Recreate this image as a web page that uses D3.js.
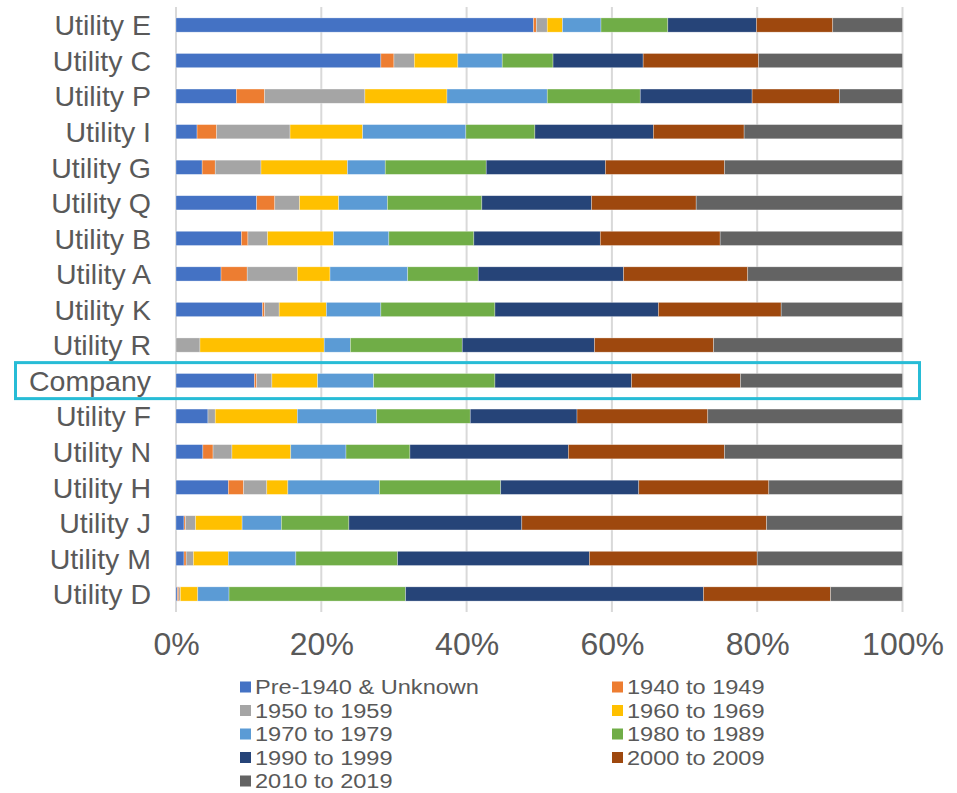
<!DOCTYPE html>
<html>
<head>
<meta charset="utf-8">
<script src="https://cdn.jsdelivr.net/npm/d3@7"></script>
<style>
  html, body { margin: 0; padding: 0; background: #fff; }
  svg { display: block; }
  text { font-family: "Liberation Sans", Arial, sans-serif; fill: #595959; }
</style>
</head>
<body>
<svg id="chart" width="957" height="793"></svg>
<script>
const categories = ["Utility E","Utility C","Utility P","Utility I","Utility G","Utility Q","Utility B","Utility A","Utility K","Utility R","Company","Utility F","Utility N","Utility H","Utility J","Utility M","Utility D"];
const seriesNames = ["Pre-1940 & Unknown","1940 to 1949","1950 to 1959","1960 to 1969","1970 to 1979","1980 to 1989","1990 to 1999","2000 to 2009","2010 to 2019"];
const seriesColors = ["#4472C4","#ED7D31","#A5A5A5","#FFC000","#5B9BD5","#70AD47","#264478","#9E480E","#636363"];
// percentage per category, in series order
const pre1940   = [49.2, 28.2,  8.3,  2.9,  3.6, 11.1,  9.0,  6.2, 11.9,  0.0, 10.8,  4.4,  3.7,  7.2,  1.1,  1.1,  0.2];
const s1940     = [ 0.4,  1.8,  3.9,  2.7,  1.8,  2.5,  0.9,  3.6,  0.3,  0.0,  0.3,  0.0,  1.4,  2.1,  0.2,  0.3,  0.2];
const s1950     = [ 1.5,  2.8, 13.8, 10.1,  6.3,  3.4,  2.7,  6.9,  2.0,  3.3,  2.1,  1.0,  2.6,  3.2,  1.4,  1.0,  0.2];
const s1960     = [ 2.1,  6.0, 11.3, 10.0, 11.9,  5.4,  9.1,  4.5,  6.5, 17.1,  6.3, 11.3,  8.1,  2.9,  6.4,  4.8,  2.4];
const s1970     = [ 5.3,  6.1, 13.8, 14.2,  5.2,  6.7,  7.6, 10.7,  7.5,  3.6,  7.7, 10.9,  7.6, 12.6,  5.4,  9.3,  4.3];
const s1980     = [ 9.2,  7.0, 12.8,  9.5, 13.9, 13.0, 11.7,  9.7, 15.7, 15.4, 16.7, 12.9,  8.8, 16.7,  9.3, 14.0, 24.3];
const s1990     = [12.2, 12.4, 15.4, 16.3, 16.4, 15.1, 17.4, 20.0, 22.5, 18.2, 18.8, 14.7, 21.8, 19.0, 23.8, 26.4, 41.0];
const s2000     = [10.5, 15.9, 12.0, 12.5, 16.4, 14.4, 16.5, 17.1, 16.9, 16.4, 15.0, 18.0, 21.5, 17.9, 33.7, 23.1, 17.5];
const s2010     = [ 9.6, 19.8,  8.7, 21.8, 24.5, 28.4, 25.1, 21.3, 16.7, 26.0, 22.3, 26.8, 24.5, 18.4, 18.7, 20.0,  9.9];
const xTicks = [0, 0.2, 0.4, 0.6, 0.8, 1.0];
const highlighted = "Company";

const seriesValues = [pre1940, s1940, s1950, s1960, s1970, s1980, s1990, s2000, s2010];
const rows = categories.map((c, i) => {
  const o = { cat: c };
  seriesNames.forEach((s, j) => o[s] = seriesValues[j][i]);
  return o;
});
const stack = d3.stack().keys(seriesNames).offset(d3.stackOffsetExpand);
const stacked = stack(rows);

const svg = d3.select("#chart");
const x = d3.scaleLinear().domain([0, 1]).range([176, 902.5]);
const y = d3.scaleBand().domain(categories).range([7.25, 611.75]).paddingInner(0.6).paddingOuter(0.3);

// gridlines
svg.append("g").selectAll("line").data(xTicks).join("line")
  .attr("x1", d => x(d)).attr("x2", d => x(d))
  .attr("y1", 7).attr("y2", 612)
  .attr("stroke", "#d9d9d9").attr("stroke-width", 2);

// bars
svg.append("g").selectAll("g").data(stacked).join("g")
  .attr("fill", (d, i) => seriesColors[i])
  .selectAll("rect").data(d => d).join("rect")
  .attr("x", d => x(d[0]))
  .attr("width", d => Math.max(0, x(d[1]) - x(d[0])))
  .attr("y", d => y(d.data.cat))
  .attr("height", y.bandwidth())
  .attr("stroke", "#ffffff").attr("stroke-width", 0.6).attr("stroke-opacity", 0.5);

// y labels
svg.append("g").selectAll("text").data(categories).join("text")
  .attr("x", 151)
  .attr("y", d => y(d) + y.bandwidth() / 2)
  .attr("dy", "0.36em")
  .attr("text-anchor", "end")
  .attr("font-size", 28.5)
  .text(d => d);

// x axis labels
const xAxis = d3.axisBottom(x).tickValues(xTicks).tickFormat(d3.format(".0%")).tickSize(0);
const ax = svg.append("g").attr("transform", "translate(0,629)").call(xAxis);
ax.select(".domain").remove();
ax.selectAll("text").attr("font-size", 32).attr("fill", "#595959")
  .style("font-family", "'Liberation Sans', Arial, sans-serif");

// highlight box
const hb = y(highlighted);
svg.append("rect")
  .attr("x", 15.5).attr("y", hb + y.bandwidth() / 2 - 18)
  .attr("width", 904).attr("height", 36)
  .attr("fill", "none").attr("stroke", "#27BCD6").attr("stroke-width", 3);

// legend
const legend = svg.append("g");
seriesNames.forEach((s, i) => {
  const col = i % 2, row = Math.floor(i / 2);
  const lx = col === 0 ? 240 : 612;
  const ly = 687 + row * 23.5;
  legend.append("rect").attr("x", lx).attr("y", ly - 5.5).attr("width", 11).attr("height", 11)
    .attr("fill", seriesColors[i]);
  legend.append("text")
    .attr("transform", `translate(${lx + 15},${ly}) scale(1.15,1)`)
    .attr("dy", "0.35em")
    .attr("font-size", 20.5).text(s);
});
</script>
</body>
</html>
